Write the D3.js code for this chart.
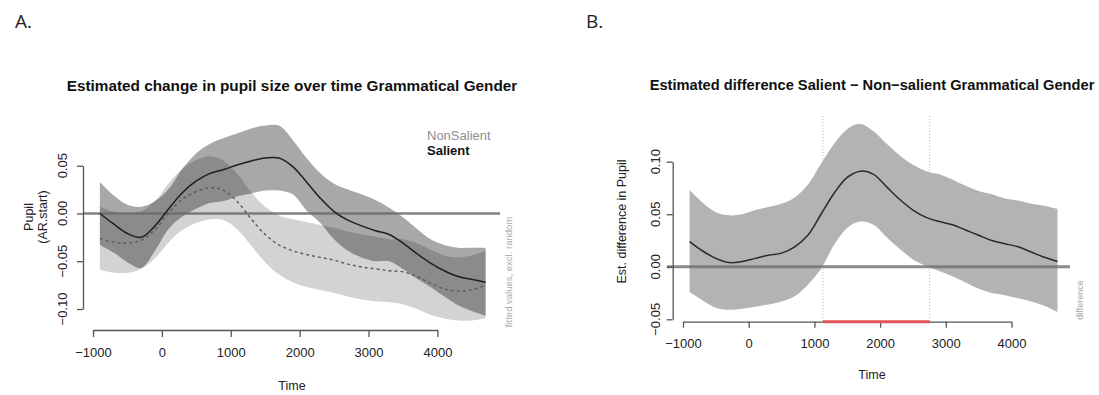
<!DOCTYPE html>
<html><head><meta charset="utf-8">
<script src="https://cdn.jsdelivr.net/npm/d3@7"></script>
<style>
body{margin:0;background:#fff}
svg{display:block}
text{font-family:"Liberation Sans",Arial,Helvetica,sans-serif}
</style>
</head><body>
<svg id="c" width="1099" height="395"></svg>
<script>
// ---------- data ----------
const xTicks = [-1000, 0, 1000, 2000, 3000, 4000];
const xTickLabels = ["\u22121000", "0", "1000", "2000", "3000", "4000"];
const yTicksA = [-0.10, -0.05, 0.00, 0.05];
const yTickLabelsA = ["\u22120.10", "\u22120.05", "0.00", "0.05"];
const yTicksB = [-0.05, 0.00, 0.05, 0.10];
const yTickLabelsB = ["\u22120.05", "0.00", "0.05", "0.10"];

const time = [-900,-700,-500,-300,-100,100,300,500,700,900,1100,1300,1500,1700,1900,
              2100,2300,2500,2700,2900,3100,3300,3500,3700,3900,4100,4300,4500,4700];

// Panel A: Salient
const salientMean  = [0.000,-0.011,-0.021,-0.025,-0.013,0.005,0.022,0.034,0.042,0.046,0.051,0.055,0.058,0.058,0.049,
                      0.033,0.016,0.002,-0.007,-0.013,-0.018,-0.022,-0.031,-0.042,-0.052,-0.060,-0.066,-0.069,-0.072];
const salientUpper = [0.033,0.019,0.009,0.007,0.013,0.026,0.047,0.063,0.073,0.079,0.084,0.089,0.092,0.092,0.077,
                      0.058,0.042,0.031,0.025,0.020,0.014,0.006,-0.004,-0.016,-0.027,-0.033,-0.036,-0.036,-0.036];
const salientLower = [-0.033,-0.041,-0.051,-0.057,-0.039,-0.016,-0.003,0.005,0.011,0.013,0.018,0.021,0.024,0.024,0.020,
                      0.003,-0.010,-0.027,-0.039,-0.046,-0.050,-0.050,-0.058,-0.068,-0.077,-0.087,-0.096,-0.102,-0.107];
// Panel A: NonSalient
const nonSalientMean  = [-0.026,-0.030,-0.031,-0.028,-0.017,0.001,0.015,0.023,0.027,0.024,0.012,-0.006,-0.022,-0.033,-0.039,
                         -0.043,-0.046,-0.049,-0.053,-0.056,-0.058,-0.060,-0.061,-0.066,-0.073,-0.079,-0.081,-0.080,-0.075];
const nonSalientUpper = [0.007,0.002,0.000,0.002,0.013,0.032,0.047,0.056,0.060,0.055,0.041,0.022,0.007,-0.002,-0.006,
                         -0.009,-0.012,-0.015,-0.019,-0.022,-0.024,-0.027,-0.027,-0.031,-0.038,-0.044,-0.046,-0.044,-0.039];
const nonSalientLower = [-0.059,-0.062,-0.062,-0.058,-0.047,-0.030,-0.017,-0.010,-0.006,-0.007,-0.017,-0.034,-0.051,-0.064,-0.072,
                         -0.077,-0.080,-0.083,-0.087,-0.090,-0.092,-0.093,-0.095,-0.100,-0.106,-0.110,-0.112,-0.112,-0.110];
// Panel B: difference
const diffMean  = [0.024,0.015,0.008,0.004,0.005,0.008,0.011,0.013,0.019,0.030,0.050,0.070,0.085,0.091,0.088,
                   0.076,0.064,0.054,0.047,0.043,0.040,0.035,0.030,0.025,0.022,0.019,0.014,0.009,0.005];
const diffUpper = [0.073,0.061,0.052,0.049,0.050,0.054,0.057,0.060,0.066,0.078,0.098,0.117,0.131,0.136,0.129,
                   0.117,0.106,0.097,0.091,0.088,0.083,0.077,0.072,0.069,0.065,0.063,0.060,0.058,0.055];
const diffLower = [-0.024,-0.032,-0.039,-0.041,-0.040,-0.038,-0.036,-0.033,-0.028,-0.017,-0.002,0.021,0.037,0.043,0.040,
                   0.028,0.017,0.007,0.001,-0.004,-0.009,-0.015,-0.021,-0.025,-0.027,-0.030,-0.033,-0.037,-0.043];
const sigWindow = [1130, 2755];

// ---------- drawing ----------
const svg = d3.select("#c");
const rows = (m, lo, hi) => time.map((t, i) => ({t, m: m[i], lo: lo[i], hi: hi[i]}));

function fitText(sel, target) {
  const fs = parseFloat(sel.attr("font-size"));
  const len = sel.node().getComputedTextLength();
  sel.attr("font-size", (fs * target / len).toFixed(2));
}

function drawAxes(g, x, y, xAxisY, yAxisX, yTicks, yLabels, opts) {
  const ax = g.append("g").attr("transform", `translate(0,${xAxisY})`)
    .call(d3.axisBottom(x).tickValues(xTicks).tickFormat((d, i) => xTickLabels[i])
      .tickSize(opts.xTick).tickSizeOuter(0).tickPadding(opts.xPad));
  ax.selectAll("path,line").attr("stroke", "#555").attr("stroke-width", 1.3);
  ax.selectAll("text").attr("font-size", 13).attr("fill", "#222")
    .attr("font-family", "'Liberation Sans',Arial,sans-serif");
  const ay = g.append("g").attr("transform", `translate(${yAxisX},0)`)
    .call(d3.axisLeft(y).tickValues(yTicks).tickFormat("").tickSize(opts.yTick).tickSizeOuter(0));
  ay.selectAll("path,line").attr("stroke", "#555").attr("stroke-width", 1.3);
  g.selectAll(null).data(yTicks).enter().append("text")
    .attr("transform", (d) => `translate(${opts.yLabX},${y(d)}) rotate(-90)`)
    .attr("text-anchor", "middle").attr("dominant-baseline", "central")
    .attr("font-size", 13).attr("fill", "#222")
    .text((d, i) => yLabels[i]);
}

// Panel labels
svg.append("text").attr("x", 15).attr("y", 28).attr("font-size", 19).attr("fill", "#222")
  .style("font-family", "'Open Sans',sans-serif").text("A.");
svg.append("text").attr("x", 586).attr("y", 28).attr("font-size", 19).attr("fill", "#222")
  .style("font-family", "'Open Sans',sans-serif").text("B.");

// ===== Panel A =====
{
  const g = svg.append("g");
  const x = d3.scaleLinear().domain([-1000, 4000]).range([93, 437.4]);
  const y = d3.scaleLinear().domain([-0.10, 0.05]).range([309, 165.7]);
  const area = d3.area().x(d => x(d.t)).y0(d => y(d.lo)).y1(d => y(d.hi)).curve(d3.curveCatmullRom);
  const line = d3.line().x(d => x(d.t)).y(d => y(d.m)).curve(d3.curveCatmullRom);
  const ns = rows(nonSalientMean, nonSalientLower, nonSalientUpper);
  const sa = rows(salientMean, salientLower, salientUpper);

  g.append("path").datum(ns).attr("d", area).attr("fill", "#000").attr("fill-opacity", 0.173);
  g.append("path").datum(sa).attr("d", area).attr("fill", "#000").attr("fill-opacity", 0.34);

  g.append("line").attr("x1", 83).attr("x2", 500).attr("y1", y(0)).attr("y2", y(0))
    .attr("stroke", "#6a6a6a").attr("stroke-opacity", 0.85).attr("stroke-width", 2.4);

  g.append("path").datum(ns).attr("d", line).attr("fill", "none")
    .attr("stroke", "#5a5a5a").attr("stroke-width", 1.4).attr("stroke-dasharray", "3,3");
  g.append("path").datum(sa).attr("d", line).attr("fill", "none")
    .attr("stroke", "#1e1e1e").attr("stroke-width", 1.5);

  drawAxes(g, x, y, 330, 83, yTicksA, yTickLabelsA, {xTick: 7, xPad: 11, yTick: 6, yLabX: 62});

  const t = g.append("text").attr("x", 292).attr("y", 91).attr("text-anchor", "middle")
    .attr("font-size", 13).attr("font-weight", "bold").attr("fill", "#111")
    .text("Estimated change in pupil size over time Grammatical Gender");
  fitText(t, 451);

  g.append("text").attr("x", 292).attr("y", 390).attr("text-anchor", "middle")
    .attr("font-size", 12.5).attr("fill", "#222").text("Time");
  g.append("text").attr("transform", "translate(29,217) rotate(-90)").attr("text-anchor", "middle")
    .attr("dominant-baseline", "central").attr("font-size", 12.5).attr("fill", "#222").text("Pupil");
  g.append("text").attr("transform", "translate(43,217) rotate(-90)").attr("text-anchor", "middle")
    .attr("dominant-baseline", "central").attr("font-size", 12.5).attr("fill", "#222").text("(AR.start)");

  g.append("text").attr("x", 427).attr("y", 139.5).attr("font-size", 13).attr("fill", "#8f8f8f").text("NonSalient");
  g.append("text").attr("x", 427).attr("y", 155).attr("font-size", 13).attr("font-weight", "bold").attr("fill", "#111").text("Salient");

  g.append("text").attr("transform", "translate(508,272) rotate(-90)").attr("text-anchor", "middle")
    .attr("dominant-baseline", "central").attr("font-size", 9.5).attr("fill", "#aaa").text("fitted values, excl. random");
}

// ===== Panel B =====
{
  const g = svg.append("g");
  const x = d3.scaleLinear().domain([-1000, 4000]).range([683, 1011.5]);
  const y = d3.scaleLinear().domain([-0.05, 0.10]).range([319.3, 161.7]);
  const area = d3.area().x(d => x(d.t)).y0(d => y(d.lo)).y1(d => y(d.hi)).curve(d3.curveCatmullRom);
  const line = d3.line().x(d => x(d.t)).y(d => y(d.m)).curve(d3.curveCatmullRom);
  const df = rows(diffMean, diffLower, diffUpper);

  sigWindow.forEach(v => g.append("line").attr("x1", x(v)).attr("x2", x(v)).attr("y1", 116).attr("y2", 321)
    .attr("stroke", "#e8a0a0").attr("stroke-width", 1).attr("stroke-dasharray", "1,2"));

  g.append("path").datum(df).attr("d", area).attr("fill", "#b3b3b3");

  g.append("line").attr("x1", 667).attr("x2", 1070).attr("y1", y(0)).attr("y2", y(0))
    .attr("stroke", "#6e6e6e").attr("stroke-opacity", 0.8).attr("stroke-width", 2.8);

  g.append("path").datum(df).attr("d", line).attr("fill", "none")
    .attr("stroke", "#2a2a2a").attr("stroke-width", 1.5);

  drawAxes(g, x, y, 321.7, 672.7, yTicksB, yTickLabelsB, {xTick: 6, xPad: 11, yTick: 6, yLabX: 655});

  g.append("line").attr("x1", x(sigWindow[0])).attr("x2", x(sigWindow[1]))
    .attr("y1", 321.7).attr("y2", 321.7).attr("stroke", "#e05555").attr("stroke-width", 3);

  const t = g.append("text").attr("x", 872).attr("y", 89.5).attr("text-anchor", "middle")
    .attr("font-size", 13).attr("font-weight", "bold").attr("fill", "#111")
    .text("Estimated difference Salient \u2212 Non\u2212salient Grammatical Gender");
  fitText(t, 445);

  g.append("text").attr("x", 872).attr("y", 379).attr("text-anchor", "middle")
    .attr("font-size", 12.5).attr("fill", "#222").text("Time");
  g.append("text").attr("transform", "translate(621.5,221.5) rotate(-90)").attr("text-anchor", "middle")
    .attr("dominant-baseline", "central").attr("font-size", 12.5).attr("fill", "#222").text("Est. difference in Pupil");
  g.append("text").attr("transform", "translate(1080,300) rotate(-90)").attr("text-anchor", "middle")
    .attr("dominant-baseline", "central").attr("font-size", 9).attr("fill", "#aaa").text("difference");
}
</script>
</body></html>
